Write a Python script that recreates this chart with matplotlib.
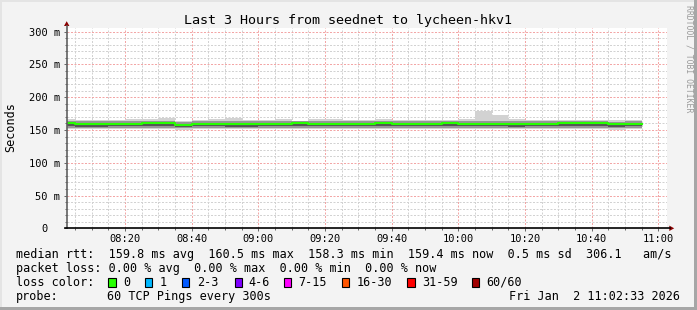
import matplotlib
matplotlib.use("Agg")
import matplotlib.pyplot as plt
import numpy as np
from matplotlib.lines import Line2D
from matplotlib.patches import Polygon, Rectangle
from matplotlib.transforms import ScaledTranslation

W, H = 697, 310
MONO = "DejaVu Sans Mono"

# end of each 5 minute step (smokeping rrd step = 300s)
step_end = ["08:05", "08:10", "08:15", "08:20", "08:25", "08:30", "08:35",
            "08:40", "08:45", "08:50", "08:55", "09:00", "09:05", "09:10",
            "09:15", "09:20", "09:25", "09:30", "09:35", "09:40", "09:45",
            "09:50", "09:55", "10:00", "10:05", "10:10", "10:15", "10:20",
            "10:25", "10:30", "10:35", "10:40", "10:45", "10:50", "10:55"]

# median rtt per step (ms)
median_ms = [160.3, 159.3, 159.3, 159.3, 159.3, 160.3, 160.3, 158.3, 159.5,
             159.3, 159.3, 159.3, 159.5, 159.8, 160.5, 159.5, 159.6, 159.5,
             159.4, 160.4, 159.4, 159.4, 159.4, 160.3, 159.6, 159.6, 159.6,
             159.3, 159.5, 159.5, 160.0, 160.3, 160.3, 158.8, 159.4]

# smoke: spread of the 60 pings per step (ms)
smoke_min = [151.0, 151.2, 151.0, 151.3, 151.0, 151.5, 150.8, 150.5, 151.2,
             151.0, 150.8, 151.0, 151.2, 151.0, 151.5, 151.0, 151.2, 151.0,
             151.2, 151.5, 151.0, 151.2, 151.0, 151.5, 151.0, 150.8, 151.0,
             150.8, 151.0, 151.2, 151.5, 151.2, 151.0, 150.6, 151.0]
smoke_q10 = [153.0, 153.0, 152.8, 153.2, 153.0, 153.5, 153.0, 152.5, 153.0,
             153.0, 152.8, 152.6, 153.0, 153.0, 153.5, 153.0, 153.0, 153.0,
             153.0, 153.5, 153.0, 153.0, 153.0, 153.5, 153.0, 153.0, 153.0,
             152.6, 153.0, 153.0, 153.2, 153.5, 153.2, 152.5, 153.0]
smoke_q25 = [155.5, 155.2, 155.0, 155.5, 155.5, 156.0, 155.5, 154.5, 155.5,
             155.5, 155.2, 154.8, 155.5, 155.5, 156.0, 155.5, 155.5, 155.5,
             155.5, 156.0, 155.5, 155.5, 155.5, 156.0, 155.5, 155.5, 155.5,
             154.8, 155.5, 155.5, 155.8, 156.0, 155.8, 154.8, 155.5]
smoke_q90 = [163.5, 163.0, 163.0, 163.0, 163.5, 163.5, 164.0, 161.5, 163.0,
             163.5, 164.0, 163.0, 163.0, 163.5, 163.0, 163.5, 163.5, 163.0,
             163.0, 164.0, 163.0, 163.0, 163.0, 163.5, 163.5, 164.0, 164.0,
             163.0, 163.0, 163.0, 163.0, 163.5, 163.5, 162.5, 163.0]
smoke_max = [166.4, 165.0, 165.0, 165.0, 166.0, 166.0, 169.0, 163.0, 165.0,
             166.0, 169.0, 165.0, 165.0, 166.0, 164.0, 166.0, 166.0, 165.7,
             165.7, 167.0, 165.7, 165.7, 165.7, 165.7, 166.6, 179.5, 172.8,
             166.6, 165.7, 165.7, 165.7, 165.7, 165.7, 165.7, 165.7]

y_ticks = [0, 50, 100, 150, 200, 250, 300]
y_labels = ["0", "50 m", "100 m", "150 m", "200 m", "250 m", "300 m"]
x_labels = ["08:20", "08:40", "09:00", "09:20", "09:40", "10:00", "10:20",
            "10:40", "11:00"]

loss_labels = ["0", "1", "2-3", "4-6", "7-15", "16-30", "31-59", "60/60"]
loss_colors = ["#26ff00", "#00b8ff", "#0059ff", "#7e00ff", "#ff00ff",
               "#ff5500", "#ff0000", "#a10000"]

title = "Last 3 Hours from seednet to lycheen-hkv1"
rtt_line = ("median rtt:  159.8 ms avg  160.5 ms max  158.3 ms min  "
            "159.4 ms now  0.5 ms sd  306.1   am/s")
loss_line = "packet loss: 0.00 % avg  0.00 % max  0.00 % min  0.00 % now"
probe_text = "60 TCP Pings every 300s"
stamp = "Fri Jan  2 11:02:33 2026"


def minutes(hhmm):
    h, m = hhmm.split(":")
    return (int(h) - 8) * 60 + int(m)


def fx(x):
    return x / W


def fy(y):
    return 1 - y / H


ends = np.array([minutes(t) for t in step_end], dtype=float)
edges = np.append(ends - 5, ends[-1])


def stepped(vals):
    vals = np.asarray(vals, dtype=float)
    return np.append(vals, vals[-1])


fig = plt.figure(figsize=(W / 100, H / 100), dpi=100, facecolor="#f3f3f3")

# plot canvas: x 66.7..666.7 px, y 28.3..228.3 px
ax = fig.add_axes([fx(66.7), fy(228.3), 600 / W, 200 / H])
ax.set_facecolor("white")
ax.set_xlim(2.55, 182.55)
ax.set_ylim(0, 305.1)
for s in ax.spines.values():
    s.set_visible(False)

# smoke
ax.fill_between(edges, stepped(smoke_min), stepped(smoke_max), step="post",
                color="#d2d2d2", lw=0, zorder=2)
ax.fill_between(edges, stepped(smoke_q10), stepped(smoke_q90), step="post",
                color="#969696", lw=0, zorder=3)
ax.fill_between(edges, stepped(smoke_q25), stepped(median_ms), step="post",
                color="#555555", lw=0, zorder=4)
ax.step(edges, stepped(median_ms), where="post", color="#26ff00", lw=1.5,
        zorder=5)

# grid
ax.set_yticks(y_ticks)
ax.set_yticklabels(y_labels)
ax.set_yticks(np.arange(0, 301, 10), minor=True)
ax.set_xticks([minutes(t) for t in x_labels])
ax.set_xticklabels(x_labels)
ax.set_xticks(np.arange(5, 181, 5), minor=True)
ax.set_axisbelow(True)
ax.grid(which="minor", color="#d2d2d2", linestyle=(0, (2, 1.5)), lw=0.72)
ax.grid(which="major", color="#f3a6a6", linestyle=(0, (2, 1.5)), lw=0.72)

ax.tick_params(which="both", direction="out", color="#666666", width=0.7)
ax.tick_params(which="major", length=2.2)
ax.tick_params(which="minor", length=1.4)
ax.tick_params(axis="y", labelsize=7.5, pad=2.6)
ax.tick_params(axis="x", labelsize=7.5, pad=2.2)
for lab in ax.get_yticklabels() + ax.get_xticklabels():
    lab.set_family(MONO)
# the "0" label sits further left in rrdtool
ax.get_yticklabels()[0].set_transform(
    ax.get_yticklabels()[0].get_transform()
    + ScaledTranslation(-12 / 100, 0, fig.dpi_scale_trans))

# axes lines with arrows
fig.add_artist(Line2D([fx(66.7), fx(66.7)], [fy(228.3), fy(25.5)],
                      color="#606060", lw=1.2))
fig.add_artist(Line2D([fx(64.5), fx(669.5)], [fy(228.3), fy(228.3)],
                      color="black", lw=1.2))
fig.add_artist(Polygon([(fx(64.0), fy(26.0)), (fx(69.4), fy(26.0)),
                        (fx(66.7), fy(21.2))], closed=True,
                       color="#8b0000", lw=0))
fig.add_artist(Polygon([(fx(669.3), fy(225.6)), (fx(669.3), fy(231.0)),
                        (fx(674.2), fy(228.3))], closed=True,
                       color="#8b0000", lw=0))

# frame shading
fig.add_artist(Rectangle((fx(694), 0), 3 / W, 1, color="#a6a6a6", lw=0))
fig.add_artist(Rectangle((0, 0), 1, 3 / H, color="#a6a6a6", lw=0))
fig.add_artist(Rectangle((0, fy(2)), fx(694), 2 / H, color="#e4e4e4", lw=0))
fig.add_artist(Rectangle((0, 3 / H), fx(2), 1 - 5 / H, color="#e4e4e4",
                         lw=0))

# texts
fig.text(fx(348.5), fy(23.7), title, family=MONO, fontsize=9.6,
         ha="center", va="baseline")
fig.text(fx(10.5), fy(127.5), "Seconds", family=MONO, fontsize=8.5,
         rotation=90, ha="center", va="center")
fig.text(fx(688.5), fy(5), "RRDTOOL / TOBI OETIKER", family=MONO,
         fontsize=5.9, color="#9a9a9a", rotation=270, ha="center", va="top")

fig.text(fx(16), fy(257.8), rtt_line, family=MONO, fontsize=8.5,
         va="baseline")
fig.text(fx(16), fy(271.8), loss_line, family=MONO, fontsize=8.5,
         va="baseline")
fig.text(fx(16), fy(285.8), "loss color:", family=MONO, fontsize=8.5,
         va="baseline")
box_x = [108.3, 145.0, 181.7, 235.0, 284.0, 342.0, 407.5, 471.8]
lab_x = [123.3, 160.0, 197.3, 248.0, 298.7, 357.0, 422.3, 486.7]
for bx, lx, lab, col in zip(box_x, lab_x, loss_labels, loss_colors):
    fig.add_artist(Rectangle((fx(bx), fy(287.0)), 7.2 / W, 9.0 / H,
                             facecolor=col, edgecolor="black", lw=0.8))
    fig.text(fx(lx), fy(285.8), lab, family=MONO, fontsize=8.5,
             va="baseline")
fig.text(fx(16), fy(299.6), "probe:", family=MONO, fontsize=8.5,
         va="baseline")
fig.text(fx(107.3), fy(299.6), probe_text, family=MONO, fontsize=8.5,
         va="baseline")
fig.text(fx(680), fy(299.6), stamp, family=MONO, fontsize=8.5,
         ha="right", va="baseline")

fig.savefig("out.png", dpi=100, facecolor=fig.get_facecolor())
